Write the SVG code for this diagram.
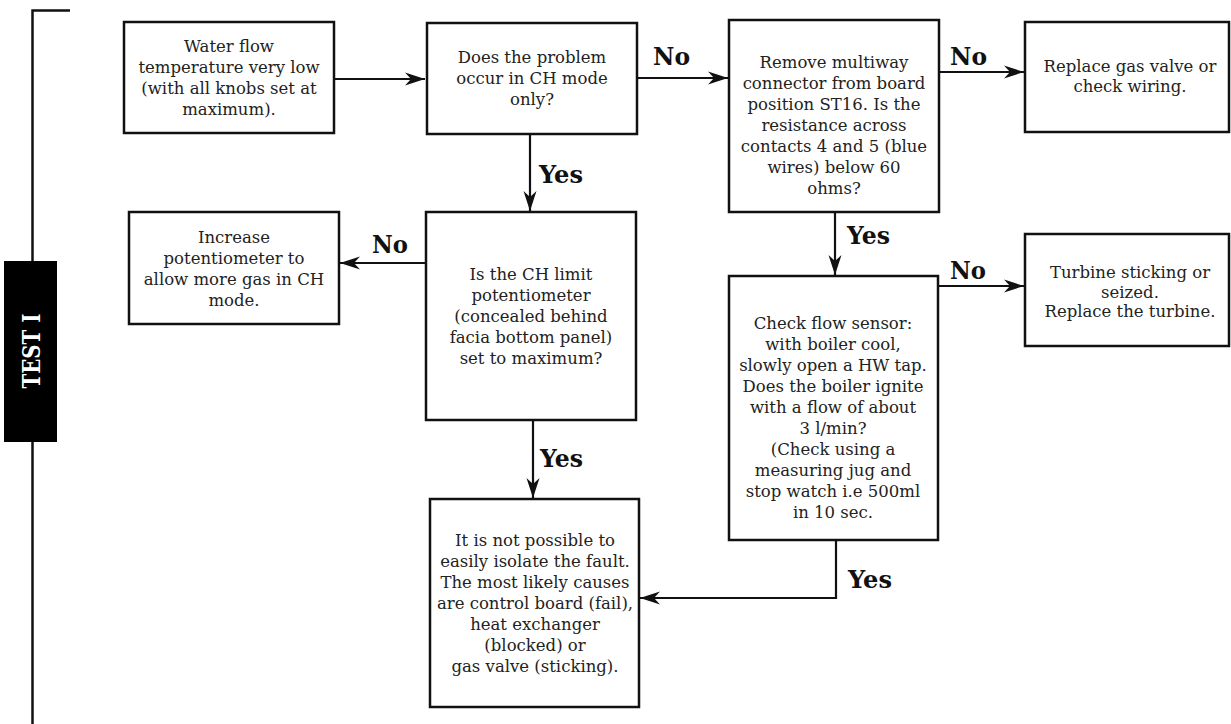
<svg xmlns="http://www.w3.org/2000/svg" width="1231" height="724" viewBox="0 0 1231 724">
<style>
.box{fill:#fff;stroke:#111;stroke-width:2.5}
.t{font-family:"DejaVu Serif","Liberation Serif",serif;font-size:16.5px;fill:#222;text-anchor:middle}
.lbl{font-family:"DejaVu Serif","Liberation Serif",serif;font-size:24px;font-weight:bold;fill:#111}
.c{fill:none;stroke:#111;stroke-width:2.2}
</style>
<defs>
<marker id="ah" markerUnits="userSpaceOnUse" viewBox="-21 -7 22 14" refX="0" refY="0" markerWidth="22" markerHeight="14" orient="auto">
<path d="M0,0 L-20,-6.5 L-14,0 L-20,6.5 Z" fill="#111"/>
</marker>
</defs>
<rect width="1231" height="724" fill="#fff"/>
<g id="bracket">
<path d="M70,10.5 H32.5 V724" fill="none" stroke="#111" stroke-width="2.5"/>
<rect x="4" y="261" width="53" height="181" fill="#000"/>
<text transform="translate(39.5,351) rotate(-90)" font-family="DejaVu Serif, serif" font-weight="bold" font-size="25" fill="#fff" text-anchor="middle" textLength="75" lengthAdjust="spacingAndGlyphs">TEST I</text>
</g>
<g id="connectors">
<path class="c" d="M334,79 H425" marker-end="url(#ah)"/>
<path class="c" d="M637,78 H728" marker-end="url(#ah)"/>
<path class="c" d="M939,72 H1024" marker-end="url(#ah)"/>
<path class="c" d="M530,134 V211" marker-end="url(#ah)"/>
<path class="c" d="M426,263 H340" marker-end="url(#ah)"/>
<path class="c" d="M533,420 V498" marker-end="url(#ah)"/>
<path class="c" d="M835,212 V275" marker-end="url(#ah)"/>
<path class="c" d="M938,286 H1024" marker-end="url(#ah)"/>
<path class="c" d="M836,540 V598 H640" marker-end="url(#ah)"/>
<text class="lbl" x="653" y="65" textLength="37" lengthAdjust="spacingAndGlyphs">No</text>
<text class="lbl" x="950" y="65" textLength="37" lengthAdjust="spacingAndGlyphs">No</text>
<text class="lbl" x="539" y="183" textLength="44" lengthAdjust="spacingAndGlyphs">Yes</text>
<text class="lbl" x="372" y="253" textLength="36" lengthAdjust="spacingAndGlyphs">No</text>
<text class="lbl" x="847" y="244" textLength="43" lengthAdjust="spacingAndGlyphs">Yes</text>
<text class="lbl" x="950" y="279" textLength="36" lengthAdjust="spacingAndGlyphs">No</text>
<text class="lbl" x="540" y="467" textLength="43" lengthAdjust="spacingAndGlyphs">Yes</text>
<text class="lbl" x="848" y="588" textLength="44" lengthAdjust="spacingAndGlyphs">Yes</text>
</g>
<g id="n1">
<rect class="box" x="124" y="22" width="210" height="111"/>
<text class="t" x="229" y="52">Water flow</text>
<text class="t" x="229" y="73">temperature very low</text>
<text class="t" x="229" y="94">(with all knobs set at</text>
<text class="t" x="229" y="115">maximum).</text>
</g>
<g id="n2">
<rect class="box" x="427" y="23" width="210" height="111"/>
<text class="t" x="532" y="63">Does the problem</text>
<text class="t" x="532" y="84">occur in CH mode</text>
<text class="t" x="532" y="105">only?</text>
</g>
<g id="n3">
<rect class="box" x="729" y="20" width="210" height="192"/>
<text class="t" x="834" y="68">Remove multiway</text>
<text class="t" x="834" y="89">connector from board</text>
<text class="t" x="834" y="110">position ST16. Is the</text>
<text class="t" x="834" y="131">resistance across</text>
<text class="t" x="834" y="152">contacts 4 and 5 (blue</text>
<text class="t" x="834" y="173">wires) below 60</text>
<text class="t" x="834" y="194">ohms?</text>
</g>
<g id="n4">
<rect class="box" x="1025" y="22" width="204" height="110"/>
<text class="t" x="1130" y="72">Replace gas valve or</text>
<text class="t" x="1130" y="92">check wiring.</text>
</g>
<g id="n5">
<rect class="box" x="129" y="212" width="210" height="112"/>
<text class="t" x="234" y="243">Increase</text>
<text class="t" x="234" y="264">potentiometer to</text>
<text class="t" x="234" y="285">allow more gas in CH</text>
<text class="t" x="234" y="306">mode.</text>
</g>
<g id="n6">
<rect class="box" x="426" y="212" width="210" height="208"/>
<text class="t" x="531" y="280">Is the CH limit</text>
<text class="t" x="531" y="301">potentiometer</text>
<text class="t" x="531" y="322">(concealed behind</text>
<text class="t" x="531" y="343">facia bottom panel)</text>
<text class="t" x="531" y="364">set to maximum?</text>
</g>
<g id="n7">
<rect class="box" x="430" y="499" width="209" height="208"/>
<text class="t" x="535" y="546">It is not possible to</text>
<text class="t" x="535" y="567">easily isolate the fault.</text>
<text class="t" x="535" y="588">The most likely causes</text>
<text class="t" x="535" y="609">are control board (fail),</text>
<text class="t" x="535" y="630">heat exchanger</text>
<text class="t" x="535" y="651">(blocked) or</text>
<text class="t" x="535" y="672">gas valve (sticking).</text>
</g>
<g id="n8">
<rect class="box" x="729" y="276" width="209" height="264"/>
<text class="t" x="833" y="329">Check flow sensor:</text>
<text class="t" x="833" y="350">with boiler cool,</text>
<text class="t" x="833" y="371">slowly open a HW tap.</text>
<text class="t" x="833" y="392">Does the boiler ignite</text>
<text class="t" x="833" y="413">with a flow of about</text>
<text class="t" x="833" y="434">3 l/min?</text>
<text class="t" x="833" y="455">(Check using a</text>
<text class="t" x="833" y="476">measuring jug and</text>
<text class="t" x="833" y="497">stop watch i.e 500ml</text>
<text class="t" x="833" y="518">in 10 sec.</text>
</g>
<g id="n9">
<rect class="box" x="1025" y="234" width="204" height="112"/>
<text class="t" x="1130" y="278">Turbine sticking or</text>
<text class="t" x="1130" y="298">seized.</text>
<text class="t" x="1130" y="317">Replace the turbine.</text>
</g>
</svg>
